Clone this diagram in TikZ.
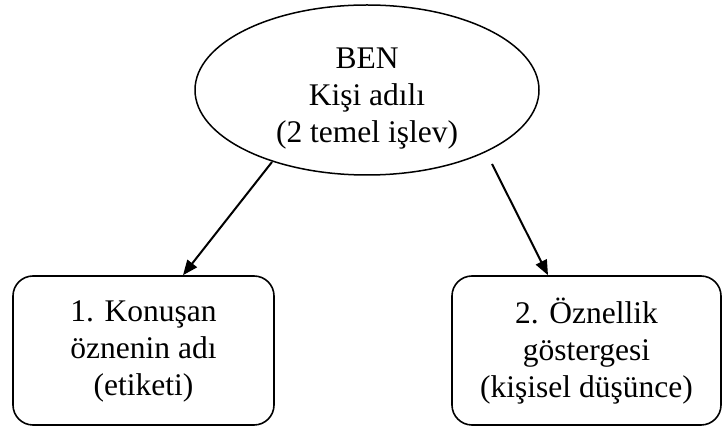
\documentclass[tikz,border=0pt]{standalone}
\usepackage{fontspec}
\setmainfont{Liberation Serif}
\usetikzlibrary{shapes.geometric,arrows.meta,calc}
\tikzset{
  txt/.style={font=\fontsize{31.5}{37}\selectfont, align=center, inner sep=0pt},
  oval/.style={ellipse, draw, line width=1.5pt, inner sep=0pt},
  roundbox/.style={draw, rounded corners=20pt, line width=1.6pt, inner sep=0pt},
  arr/.style={line width=2pt, -{Triangle[length=15pt,width=12pt]}}
}
\begin{document}
\begin{tikzpicture}[x=1pt,y=-1pt]
  \useasboundingbox (0,0) rectangle (724,427);
  % top ellipse
  \node[oval, minimum width=344pt, minimum height=170pt] (ben) at (367,90) {};
  \node[txt] (bentext) at (367,99) {BEN\\Kişi adılı\\(2 temel işlev)};
  % the two functions
  \node[roundbox, minimum width=261pt, minimum height=149pt] (k1) at (143.5,350.5) {};
  \node[txt] (k1text) at (143.5,351) {1. Konuşan\\öznenin adı\\(etiketi)};
  \node[roundbox, minimum width=269pt, minimum height=149pt] (k2) at (586.5,350.5) {};
  \node[txt] (k2text) at (586.5,351) {2. Öznellik\\göstergesi\\(kişisel düşünce)};
  % connectors
  \coordinate (lstart) at (272,162);
  \coordinate (rstart) at (492,164);
  \draw[arr] (lstart) -- ($(k1.north)+(39.5,0)$);
  \draw[arr] (rstart) -- ($(k2.north)+(-38.5,0)$);
\end{tikzpicture}
\end{document}
